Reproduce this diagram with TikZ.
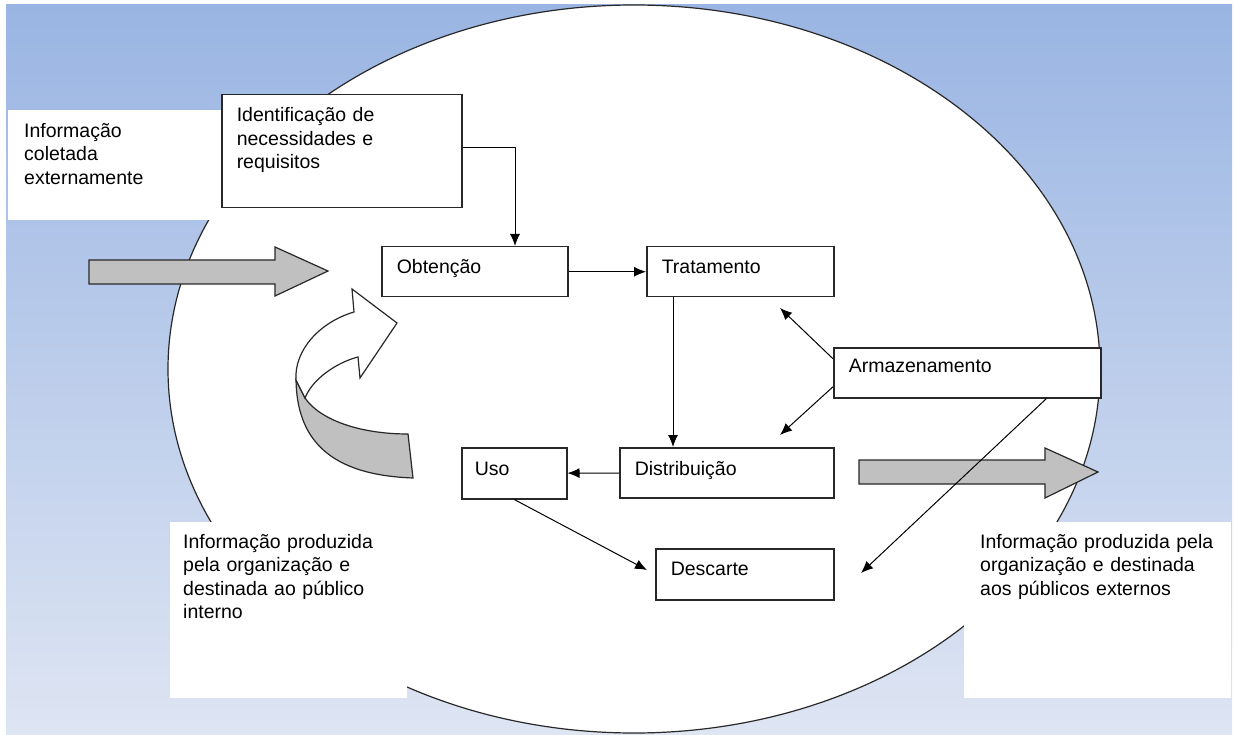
\documentclass[tikz,border=0pt]{standalone}
\usepackage{fontspec}
\setmainfont{Liberation Sans}
\usetikzlibrary{arrows.meta,calc}
\definecolor{BgTop}{RGB}{154,181,227}
\definecolor{BgBot}{RGB}{222,229,243}
\definecolor{ArrowClr}{RGB}{192,192,192}
\definecolor{LineClr}{RGB}{40,40,40}

\begin{document}
\begin{tikzpicture}[x=1pt,y=-1pt,
  font=\fontsize{19.5}{23.5}\selectfont,
  box/.style={draw=LineClr,line width=1.5pt,fill=white,anchor=north west,align=left,
    inner xsep=15pt,inner ysep=0pt,text height=27pt,text depth=23pt},
  note/.style={fill=white,anchor=north west,align=left,inner ysep=0pt,text height=27pt},
  flow/.style={-{Latex[length=12pt,width=10pt]},line width=1pt},
  bigarrow/.style={fill=ArrowClr,draw=LineClr,line width=1.2pt}]

\useasboundingbox (0,0) rectangle (1234,735);
\fill[white] (0,0) rectangle (1234,735);
\fill[top color=BgTop,bottom color=BgBot] (6,5) rectangle (1232,735);
\draw[fill=white,draw=LineClr,line width=1.2pt] (634,369) ellipse [x radius=466pt,y radius=364pt];

\node[note,inner xsep=16pt,text width=182pt,text depth=83pt] (ext) at (8,110) {Informação\\coletada\\externamente};
\node[note,inner xsep=13pt,text width=211pt,text height=26pt,text depth=150pt] (intpub) at (170,522)
  {Informação produzida\\pela organização e\\destinada ao público\\interno};
\node[note,inner xsep=16pt,text width=235pt,text height=26pt,text depth=150pt] (extpub) at (964,522)
  {Informação produzida pela\\organização e destinada\\aos públicos externos};

\node[box,text width=210pt,text depth=86pt] (ident) at (221,94) {Identificação de\\necessidades e\\requisitos};
\node[box,text width=156pt] (obt) at (381,246) {Obtenção};
\node[box,text width=157pt] (trat) at (646,246) {Tratamento};
\node[box,text width=237pt,text height=25pt,text depth=25pt] (arm) at (833,347) {Armazenamento};
\node[box,text width=184pt,text height=28pt,text depth=22pt] (dist) at (619,447) {Distribuição};
\node[box,inner xsep=13pt,text width=79pt,text height=28pt,text depth=23pt] (uso) at (461,447) {Uso};
\node[box,text width=148pt,text depth=24pt] (desc) at (655,548) {Descarte};

\draw[bigarrow] (89,260) -- (275,260) -- (275,247) -- (328,271) -- (275,296) -- (275,284) -- (89,284) -- cycle;
\draw[bigarrow] (859,460) -- (1045,460) -- (1045,448) -- (1098,472) -- (1045,498) -- (1045,484) -- (859,484) -- cycle;

\draw[bigarrow] (296,380) .. controls (297,440) and (330,475) .. (413,478) -- (408,434)
  .. controls (360,434) and (320,420) .. (305,398) -- cycle;
\draw[fill=white,draw=LineClr,line width=1.2pt] (296,380) .. controls (294,350) and (320,322) .. (354,312)
  -- (352,289) -- (397,323) -- (360,378) -- (358,357) .. controls (335,363) and (312,380) .. (305,398) -- cycle;

\coordinate (tipT) at (780,308);
\coordinate (tipD) at (780,435);
\coordinate (tipX) at (861,573);

\draw[flow] ([yshift=4pt]ident.east) -| ([xshift=134pt]obt.north west);
\draw[flow] (obt) -- (trat);
\draw[flow] ([xshift=27pt]trat.south west) -- ([xshift=27pt]trat.south west |- dist.north);
\draw[flow] (dist) -- (uso);
\draw[flow,shorten >=9pt] (uso.south) -- (desc.west);
\draw[flow] ([yshift=14pt]arm.west) -- (tipT);
\draw[flow] ([yshift=-14pt]arm.west) -- (tipD);
\draw[flow] ([xshift=-55pt]arm.south east) -- (tipX);

\end{tikzpicture}
\end{document}
